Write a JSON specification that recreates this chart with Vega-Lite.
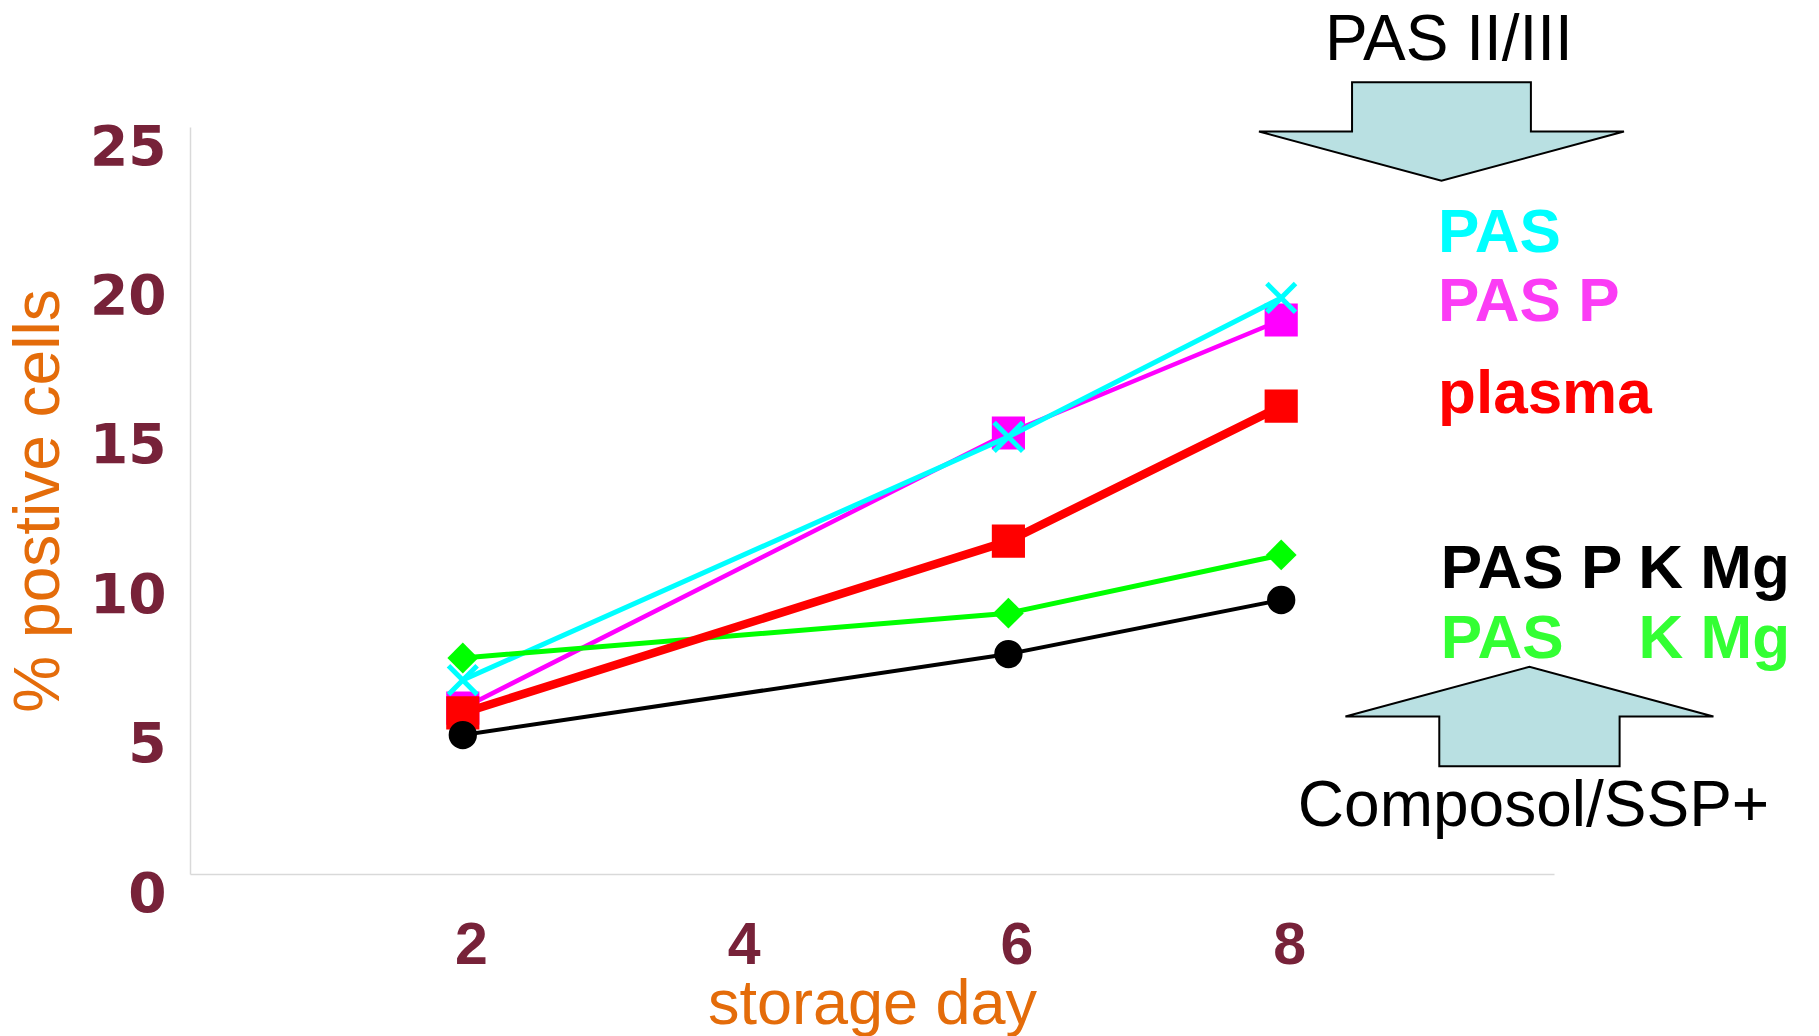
{
  "$schema": "https://vega.github.io/schema/vega-lite/v6.json",
  "width": 1364,
  "height": 747,
  "autosize": {"type": "none"},
  "padding": {"left": 190, "top": 127, "right": 265, "bottom": 162},
  "background": "white",
  "config": {"view": {"stroke": null}},
  "datasets": {
    "series": [
      {"series": "PAS P", "day": 2, "value": 5.55},
      {"series": "PAS P", "day": 6, "value": 14.76},
      {"series": "PAS P", "day": 8, "value": 18.54},
      {"series": "PAS", "day": 2, "value": 6.49},
      {"series": "PAS", "day": 6, "value": 14.63},
      {"series": "PAS", "day": 8, "value": 19.28},
      {"series": "PAS K Mg", "day": 2, "value": 7.23},
      {"series": "PAS K Mg", "day": 6, "value": 8.73},
      {"series": "PAS K Mg", "day": 8, "value": 10.68},
      {"series": "plasma", "day": 2, "value": 5.39},
      {"series": "plasma", "day": 6, "value": 11.14},
      {"series": "plasma", "day": 8, "value": 15.66},
      {"series": "PAS P K Mg", "day": 2, "value": 4.65},
      {"series": "PAS P K Mg", "day": 6, "value": 7.36},
      {"series": "PAS P K Mg", "day": 8, "value": 9.17}
    ],
    "labels": [
      {"text": "PAS", "series": "PAS", "day": 9.15, "value": 20.82},
      {"text": "PAS P", "series": "PAS P", "day": 9.15, "value": 18.51},
      {"text": "plasma", "series": "plasma", "day": 9.15, "value": 15.43},
      {"text": "PAS P K Mg", "series": "PAS P K Mg", "day": 9.17, "value": 9.57},
      {"text": "PAS", "series": "PAS K Mg", "day": 9.17, "value": 7.23},
      {"text": "K Mg", "series": "PAS K Mg", "day": 10.62, "value": 7.23}
    ],
    "notes": [
      {"text": "PAS II/III", "day": 9.23, "value": 27.24},
      {"text": "Composol/SSP+", "day": 9.85, "value": 1.61}
    ],
    "arrows": [
      {"arrow": "down", "day": 9.175, "value": 24.85},
      {"arrow": "up", "day": 9.82, "value": 5.27}
    ]
  },
  "encoding": {
    "x": {
      "field": "day", "type": "quantitative",
      "scale": {"domain": [0, 10], "nice": false, "zero": false},
      "axis": {
        "title": "storage day",
        "values": [2, 4, 6, 8],
        "grid": false, "ticks": false,
        "domainColor": "#d9d9d9", "domainWidth": 1.5,
        "labelFont": "Liberation Sans", "labelFontWeight": "bold", "labelFontSize": 59,
        "labelColor": "#772239", "labelOffset": 8, "labelPadding": 42,
        "titleFont": "Liberation Sans", "titleFontWeight": "normal", "titleFontSize": 63,
        "titleColor": "#e46c0a", "titlePadding": -2
      }
    },
    "y": {
      "field": "value", "type": "quantitative",
      "scale": {"domain": [0, 25], "nice": false},
      "axis": {
        "title": "% postive cells",
        "values": [0, 5, 10, 15, 20, 25],
        "grid": false, "ticks": false,
        "domainColor": "#d9d9d9", "domainWidth": 1.5,
        "labelFont": "DejaVu Sans", "labelFontWeight": "bold", "labelFontSize": 55,
        "labelColor": "#772239", "labelOffset": 20, "labelPadding": 24,
        "titleFont": "Liberation Sans", "titleFontWeight": "normal", "titleFontSize": 64,
        "titleColor": "#e46c0a", "titlePadding": 18
      }
    }
  },
  "layer": [
    {
      "data": {"name": "arrows"},
      "transform": [{"filter": "datum.arrow === 'down'"}],
      "mark": {"type": "point", "filled": true, "fill": "#b9e0e2", "stroke": "black", "strokeWidth": 2, "opacity": 1, "fillOpacity": 1,
        "shape": "M -0.49 -0.27 L 0.49 -0.27 L 0.49 0 L 1 0 L 0 0.27 L -1 0 L -0.49 0 Z", "size": 133225}
    },
    {
      "data": {"name": "arrows"},
      "transform": [{"filter": "datum.arrow === 'up'"}],
      "mark": {"type": "point", "filled": true, "fill": "#b9e0e2", "stroke": "black", "strokeWidth": 2, "opacity": 1, "fillOpacity": 1,
        "shape": "M -1 0 L 0 -0.27 L 1 0 L 0.49 0 L 0.49 0.27 L -0.49 0.27 L -0.49 0 Z", "size": 135424}
    },
    {
      "data": {"name": "series"},
      "transform": [{"filter": "datum.series === 'PAS P'"}],
      "mark": {"type": "line", "color": "#ff00ff", "strokeWidth": 4.5,
        "point": {"shape": "square", "size": 1100, "filled": true, "color": "#ff00ff", "opacity": 1}}
    },
    {
      "data": {"name": "series"},
      "transform": [{"filter": "datum.series === 'PAS'"}],
      "mark": {"type": "line", "color": "#00ffff", "strokeWidth": 5,
        "point": {"shape": "M -1 -1 L 1 1 M -1 1 L 1 -1", "size": 820, "filled": false, "color": "#00ffff", "strokeWidth": 5, "opacity": 1}}
    },
    {
      "data": {"name": "series"},
      "transform": [{"filter": "datum.series === 'PAS K Mg'"}],
      "mark": {"type": "line", "color": "#00ff00", "strokeWidth": 5,
        "point": {"shape": "diamond", "size": 950, "filled": true, "color": "#00ff00", "opacity": 1}}
    },
    {
      "data": {"name": "series"},
      "transform": [{"filter": "datum.series === 'plasma'"}],
      "mark": {"type": "line", "color": "#ff0000", "strokeWidth": 8.5,
        "point": {"shape": "square", "size": 1100, "filled": true, "color": "#ff0000", "opacity": 1}}
    },
    {
      "data": {"name": "series"},
      "transform": [{"filter": "datum.series === 'PAS P K Mg'"}],
      "mark": {"type": "line", "color": "#000000", "strokeWidth": 4,
        "point": {"shape": "circle", "size": 800, "filled": true, "color": "#000000", "opacity": 1}}
    },
    {
      "data": {"name": "labels"},
      "mark": {"type": "text", "align": "left", "baseline": "alphabetic", "font": "Liberation Sans", "fontWeight": "bold", "fontSize": 62},
      "encoding": {
        "text": {"field": "text"},
        "color": {
          "field": "series", "type": "nominal", "legend": null,
          "scale": {"domain": ["PAS", "PAS P", "plasma", "PAS P K Mg", "PAS K Mg"],
                    "range": ["#00ffff", "#fb3cf5", "#ff0000", "#000000", "#33ff33"]}
        }
      }
    },
    {
      "data": {"name": "notes"},
      "mark": {"type": "text", "align": "center", "baseline": "alphabetic", "font": "Liberation Sans", "fontWeight": "normal", "fontSize": 64, "color": "#000000"},
      "encoding": {"text": {"field": "text"}}
    }
  ]
}
